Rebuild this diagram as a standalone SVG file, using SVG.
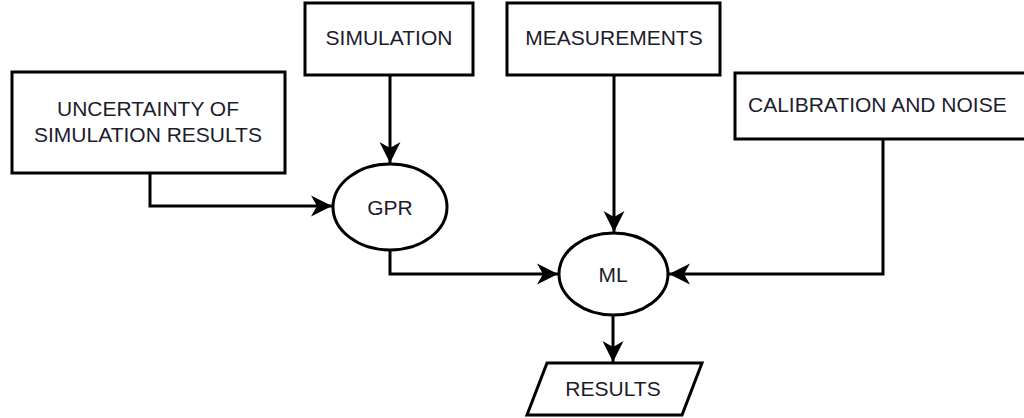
<svg xmlns="http://www.w3.org/2000/svg" width="1024" height="418" viewBox="0 0 1024 418">
<style>
.box{fill:#fff;stroke:#000;stroke-width:3}
.lbl{font-family:"Liberation Sans",Arial,sans-serif;font-size:21px;fill:#1c1c2c;text-anchor:middle}
.edge{fill:none;stroke:#000;stroke-width:3}
</style>
<defs>
<marker id="arr" markerUnits="userSpaceOnUse" markerWidth="24" markerHeight="24" viewBox="-22 -12 24 24" refX="0" refY="0" orient="auto">
<path d="M0,0 L-21,-10.5 L-15,0 L-21,10.5 Z" fill="#000"/>
</marker>
</defs>
<rect width="1024" height="418" fill="#fff"/>
<g id="edges">
<path class="edge" d="M150,173 V206 H332" marker-end="url(#arr)"/>
<path class="edge" d="M390,75 V163" marker-end="url(#arr)"/>
<path class="edge" d="M614,75 V232" marker-end="url(#arr)"/>
<path class="edge" d="M390,250 V274 H558" marker-end="url(#arr)"/>
<path class="edge" d="M883,139 V274 H669" marker-end="url(#arr)"/>
<path class="edge" d="M613,315 V362" marker-end="url(#arr)"/>
</g>
<g id="uncertainty">
<rect class="box" x="12" y="72" width="273" height="101"/>
<text class="lbl" x="148" y="116">UNCERTAINTY OF</text>
<text class="lbl" x="148" y="142">SIMULATION RESULTS</text>
</g>
<g id="simulation">
<rect class="box" x="305" y="3" width="168" height="72"/>
<text class="lbl" x="389" y="45">SIMULATION</text>
</g>
<g id="measurements">
<rect class="box" x="507" y="3" width="213" height="72"/>
<text class="lbl" x="614" y="45">MEASUREMENTS</text>
</g>
<g id="calibration">
<rect class="box" x="735" y="73" width="300" height="66"/>
<text class="lbl" x="748" y="112" style="text-anchor:start">CALIBRATION AND NOISE</text>
</g>
<g id="gpr">
<ellipse class="box" cx="390" cy="207" rx="57" ry="43"/>
<text class="lbl" x="390" y="215">GPR</text>
</g>
<g id="ml">
<ellipse class="box" cx="613.5" cy="274" rx="54.5" ry="41"/>
<text class="lbl" x="613" y="282">ML</text>
</g>
<g id="results">
<polygon class="box" points="547,363 702,363 682,415 527,415"/>
<text class="lbl" x="613" y="396">RESULTS</text>
</g>
</svg>
